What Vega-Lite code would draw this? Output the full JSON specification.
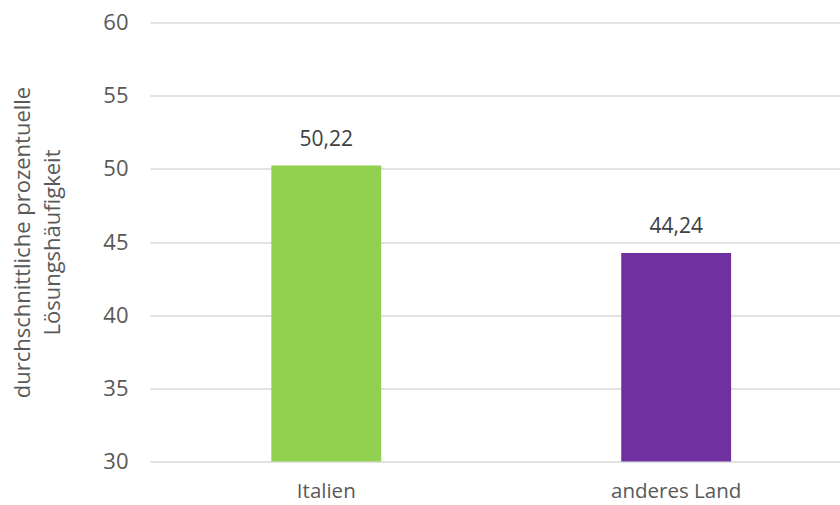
{
  "$schema": "https://vega.github.io/schema/vega-lite/v6.json",
  "width": 690,
  "height": 439,
  "autosize": "none",
  "padding": {"left": 150, "top": 22.5, "right": 0, "bottom": 43.5},
  "background": "white",
  "config": {
    "view": {"stroke": null},
    "font": "Open Sans"
  },
  "data": {
    "values": [
      {"land": "Italien", "wert": 50.22, "label": "50,22"},
      {"land": "anderes Land", "wert": 44.24, "label": "44,24"}
    ]
  },
  "encoding": {
    "x": {
      "field": "land",
      "type": "nominal",
      "sort": null,
      "scale": {"paddingInner": 0.686, "paddingOuter": 0.329, "align": 0.527},
      "axis": {
        "title": null,
        "labelAngle": 0,
        "labelFontSize": 20.5,
        "labelColor": "#595959",
        "labelPadding": 20,
        "domain": false,
        "ticks": false
      }
    },
    "y": {
      "field": "wert",
      "type": "quantitative",
      "scale": {"domain": [30, 60], "zero": false, "nice": false},
      "axis": {
        "values": [30, 35, 40, 45, 50, 55, 60],
        "title": ["durchschnittliche prozentuelle", "Lösungshäufigkeit"],
        "titleFontSize": 22,
        "titleFontWeight": "normal",
        "titleColor": "#595959",
        "titleLineHeight": 30,
        "titlePadding": 38,
        "labelFontSize": 22,
        "labelColor": "#595959",
        "labelPadding": 22,
        "domain": false,
        "ticks": false,
        "gridColor": "#D9D9D9",
        "gridWidth": 1.5
      }
    }
  },
  "layer": [
    {
      "mark": {"type": "bar", "clip": true},
      "encoding": {
        "color": {
          "field": "land",
          "type": "nominal",
          "scale": {"domain": ["Italien", "anderes Land"], "range": ["#92D050", "#7030A0"]},
          "legend": null
        }
      }
    },
    {
      "mark": {"type": "text", "baseline": "alphabetic", "dy": -20, "fontSize": 21, "color": "#404040"},
      "encoding": {
        "text": {"field": "label"}
      }
    }
  ]
}
